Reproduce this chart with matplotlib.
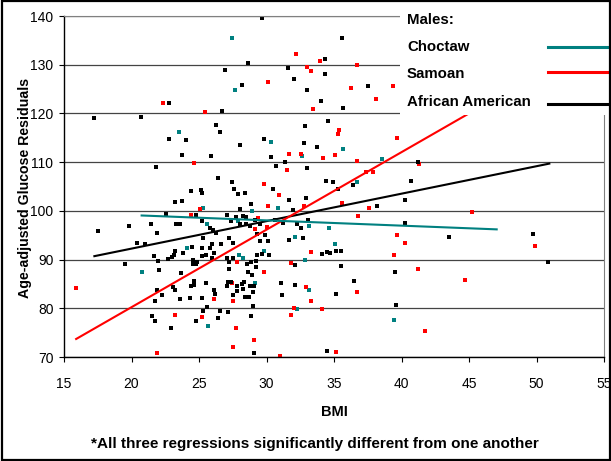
import matplotlib
matplotlib.use('Agg')
import matplotlib.pyplot as plt
from matplotlib.patches import Rectangle
from matplotlib.lines import Line2D

plt.rcParams['font.family'] = ['Liberation Sans', 'DejaVu Sans']

# Choctaw males (teal)
choctaw_bmi = [27.42, 27.67, 23.54, 30.33, 35.67, 32.63, 38.53, 30.85, 25.27, 28.95,
               27.86, 25.56, 24.09, 33.15, 34.63, 32.13, 35.07, 36.73, 20.76, 29.15,
               27.98, 28.28, 25.69, 29.81, 32.87, 33.13, 32.28, 39.44]
choctaw_res = [135.5, 124.9, 116.2, 114.2, 112.8, 111.2, 110.6, 100.5, 100.5, 99.9,
               97.9, 97.3, 92.3, 96.8, 96.5, 94.6, 93.2, 106.0, 87.5, 85.1,
               91.0, 90.3, 76.4, 91.7, 90.0, 83.7, 79.8, 77.6]

# Samoan males (red)
samoan_bmi = [30.09, 32.19, 33.02, 33.27, 33.96, 36.70, 36.26, 39.39, 38.11, 33.47,
              35.35, 35.30, 32.53, 34.21, 35.07, 39.64, 36.68, 41.30, 22.31, 25.42,
              24.63, 31.64, 31.54, 29.84, 30.95, 30.14, 25.07, 24.38, 29.39, 29.15,
              30.01, 37.35, 37.89, 35.57, 32.78, 37.62, 36.75, 39.70, 33.27, 45.24,
              49.89, 40.23, 26.13, 27.47, 27.52, 29.81, 25.59, 25.24, 27.72, 23.25,
              21.91, 27.52, 29.05, 27.79, 15.89, 39.44, 36.68, 32.93, 33.27, 32.04,
              34.11, 31.79, 35.13, 31.00, 41.25, 44.68, 41.72, 31.79]
samoan_res = [126.4, 132.2, 129.6, 128.7, 130.7, 129.9, 125.2, 125.7, 123.0, 120.9,
              116.5, 115.8, 111.7, 110.9, 111.4, 114.9, 110.3, 109.7, 122.2, 120.3,
              109.8, 111.6, 108.3, 105.5, 103.2, 101.0, 100.3, 99.2, 98.5, 96.3,
              96.6, 108.0, 108.0, 101.7, 101.0, 100.5, 98.9, 95.1, 91.6, 99.7,
              92.8, 93.3, 81.9, 85.2, 81.4, 87.4, 80.3, 78.2, 76.0, 78.6,
              70.8, 72.1, 73.4, 89.5, 84.1, 91.0, 83.4, 84.4, 81.5, 80.0,
              79.8, 78.6, 71.1, 70.3, 88.1, 85.9, 75.3, 89.2]

# African American males (black)
aa_bmi = [29.64, 28.60, 26.93, 28.16, 31.59, 32.04, 32.98, 35.61, 34.36, 34.33, 37.52,
          34.06, 35.67, 34.53, 32.78, 33.72, 32.98, 41.22, 17.25, 20.70, 22.78, 26.73,
          26.26, 26.58, 22.75, 24.04, 28.06, 23.72, 25.87, 21.79, 29.81, 30.33, 30.68,
          31.39, 32.87,
          26.43, 27.42, 27.57, 27.91, 28.41, 24.38, 25.17, 25.22, 23.25, 23.74, 28.87,
          28.06, 22.56, 24.75, 27.10, 27.74, 28.24, 28.48, 29.12, 27.37, 25.19, 28.06,
          28.46, 28.78, 29.52, 21.42, 23.30, 23.59, 25.81, 26.06, 21.91, 26.26, 29.27,
          25.32, 27.22, 29.52, 30.14, 25.94, 26.60, 27.54, 24.46, 25.24, 25.81, 23.22,
          17.50, 19.81, 20.39, 21.00,
          30.46, 31.69, 32.93, 34.41, 34.90, 35.27, 36.38, 38.19, 31.99, 30.61, 31.20,
          32.28, 32.53, 33.07, 31.64, 32.73,
          40.70, 40.28, 40.28, 43.54, 49.72,
          19.52, 21.69, 21.94, 22.73, 22.98, 23.15, 22.06, 23.84, 24.58, 24.83, 24.78,
          24.53, 25.20, 26.11, 25.94, 25.52, 27.10, 27.24, 23.67, 24.63, 24.60, 24.41,
          25.49, 23.05, 23.25, 21.91, 22.24, 21.72, 23.59, 24.33, 25.20, 26.11, 26.21,
          27.05, 27.12, 27.35, 27.54, 27.79, 28.16, 28.33, 27.84, 28.24, 28.41, 28.70,
          28.63, 28.90, 27.22, 28.78, 29.07, 28.98, 29.02, 28.83, 29.32, 29.67, 29.20,
          27.54, 28.58, 28.85, 29.22, 25.62, 25.27, 24.75, 26.38, 26.56, 27.17, 21.52,
          21.76, 22.90, 29.05,
          29.87, 34.09, 34.46, 34.70, 35.15, 35.50, 30.21, 32.11, 35.52, 39.52, 36.48,
          31.10, 32.13, 31.15, 35.15, 39.59, 34.46, 50.83]
aa_res = [139.6, 130.3, 128.9, 125.9, 129.4, 127.1, 124.8, 135.5, 131.2, 128.1, 125.6,
          122.5, 121.1, 118.4, 113.9, 113.1, 108.8, 110.0, 119.0, 119.3, 122.2, 120.5,
          117.7, 116.2, 114.7, 114.6, 113.6, 111.4, 111.2, 109.1, 114.7, 111.1, 109.3,
          110.1, 117.5,
          106.8, 106.0, 104.4, 103.5, 103.7, 104.0, 104.2, 103.6, 101.8, 102.1, 101.4,
          100.4, 99.4, 99.1, 99.1, 98.8, 99.0, 98.8, 98.1, 97.9, 97.9, 97.4,
          97.4, 96.9, 97.3, 97.4, 97.2, 97.4, 96.4, 96.1, 95.5, 95.4, 95.3,
          94.4, 94.4, 93.9, 93.9, 93.2, 93.1, 93.5, 92.5, 92.4, 92.4, 91.8,
          95.9, 96.9, 93.4, 93.2,
          104.4, 102.3, 102.7, 106.2, 106.0, 104.5, 105.4, 101.0, 100.1, 98.2, 97.5,
          97.3, 96.5, 98.1, 94.0, 94.4,
          106.2, 102.3, 97.5, 94.6, 95.3,
          89.1, 90.7, 89.8, 90.2, 90.6, 90.9, 87.8, 91.4, 89.9, 89.4, 89.1,
          89.1, 90.8, 91.3, 90.3, 91.0, 90.4, 89.4, 87.2, 85.6, 84.8, 84.6,
          85.1, 84.4, 83.7, 83.7, 82.8, 81.4, 81.9, 82.2, 82.2, 83.8, 82.9,
          84.5, 85.4, 85.4, 82.8, 84.6, 85.0, 85.3, 83.6, 83.9, 82.4, 82.4,
          87.5, 86.8, 88.1, 84.6, 84.5, 83.4, 80.5, 78.4, 91.0, 91.1, 89.8,
          90.3, 89.1, 89.5, 88.4, 80.2, 79.5, 77.3, 78.0, 79.5, 79.3, 78.4,
          77.3, 76.0, 70.8,
          95.1, 91.1, 91.6, 91.4, 91.8, 91.8, 90.9, 88.9, 88.7, 87.5, 85.5,
          85.1, 84.8, 82.8, 82.9, 80.6, 71.2, 89.6]

# regression line end points
choctaw_fit_x = [20.75, 47.05]
choctaw_fit_y = [99.05, 96.2]
samoan_fit_x = [15.9, 45.5]
samoan_fit_y = [73.7, 120.8]
aa_fit_x = [17.25, 50.95]
aa_fit_y = [90.7, 109.7]

legend_labels = ['Choctaw', 'Samoan', 'African American']

teal = '#008080'
red = '#ff0000'
black = '#000000'

W, H = 611, 461
fig = plt.figure(figsize=(W / 100, H / 100), dpi=100)
ax = fig.add_axes([64 / W, 1 - 357 / H, (604 - 64) / W, (357 - 16) / H])

ax.scatter(choctaw_bmi, choctaw_res, marker='s', s=12, c=teal, linewidths=0, zorder=2)
ax.scatter(samoan_bmi, samoan_res, marker='s', s=12, c=red, linewidths=0, zorder=2)
ax.scatter(aa_bmi, aa_res, marker='s', s=12, c=black, linewidths=0, zorder=2)

ax.plot(aa_fit_x, aa_fit_y, color=black, lw=1.5, zorder=3)
ax.plot(samoan_fit_x, samoan_fit_y, color=red, lw=1.5, zorder=3)
ax.plot(choctaw_fit_x, choctaw_fit_y, color=teal, lw=1.5, zorder=3)

ax.set_xlim(15, 55)
ax.set_ylim(70, 140)
ax.set_xticks(range(15, 56, 5))
ax.set_yticks(range(70, 141, 10))
ax.yaxis.grid(True, color='#444444', lw=0.9)
ax.set_axisbelow(True)
ax.tick_params(axis='x', direction='out', length=3.6, width=0.8, pad=11, labelsize=10)
ax.tick_params(axis='y', direction='out', length=3.6, width=0.8, pad=4, labelsize=10)
for s in ['left', 'bottom']:
    ax.spines[s].set_color('black')
    ax.spines[s].set_linewidth(1.0)
ax.spines['right'].set_color('#808080')
ax.spines['top'].set_color('#808080')

fig.text(25 / W, 1 - 188 / H, 'Age-adjusted Glucose Residuals', rotation=90,
         ha='center', va='center', fontsize=10.2, fontweight='bold')
fig.text(334 / W, 1 - 412 / H, 'BMI', ha='center', va='center',
         fontsize=10.5, fontweight='bold')
fig.text(315 / W, 1 - 444 / H,
         '*All three regressions significantly different from one another',
         ha='center', va='center', fontsize=11, fontweight='bold')

# legend block in the top right corner
fig.patches.append(Rectangle((400 / W, 1 - 115 / H), (W - 400) / W, 115 / H,
                             transform=fig.transFigure, facecolor='white',
                             edgecolor='none', zorder=5))
fig.text(407 / W, 1 - 20 / H, 'Males:', ha='left', va='center',
         fontsize=10.8, fontweight='bold', zorder=6)
for lab, col, ty, ly in zip(legend_labels, [teal, red, black],
                            [46.7, 74, 102.3], [47.3, 72.3, 104]):
    fig.text(407 / W, 1 - ty / H, lab, ha='left', va='center',
             fontsize=10.8, fontweight='bold', zorder=6)
    fig.lines.append(Line2D([548 / W, 610 / W], [1 - ly / H, 1 - ly / H],
                            transform=fig.transFigure, color=col, lw=2.2, zorder=6))

# outer frame
fig.patches.append(Rectangle((1.5 / W, 1.5 / H), (W - 3) / W, (H - 3) / H,
                             transform=fig.transFigure, fill=False,
                             edgecolor='black', lw=1.6, zorder=7))

fig.savefig('out.png', dpi=100)
